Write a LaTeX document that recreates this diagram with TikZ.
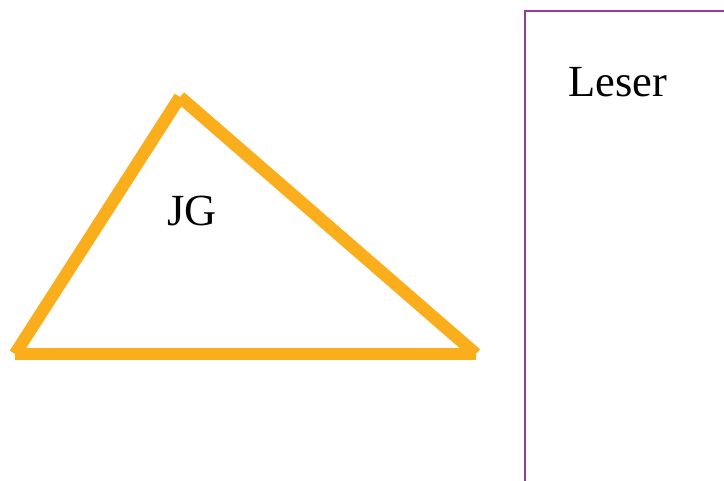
\documentclass[tikz,border=0pt]{standalone}
\usepackage{fontspec}
\setmainfont{Liberation Serif}
\usepackage{tikz}
\usepackage{xcolor}
\definecolor{EdgeOrange}{RGB}{250,174,27}
\definecolor{BoxPurple}{RGB}{150,58,160}

\begin{document}
\begin{tikzpicture}[x=1pt,y=-1pt,
    edge/.style={draw=EdgeOrange,line width=12.5pt},
    label/.style={font=\fontsize{44.5}{48}\selectfont,inner sep=0pt,anchor=base west}]
    \useasboundingbox (0,0) rectangle (724,481);
    \clip (0,0) rectangle (724,481);
    \coordinate (left) at (15,354);
    \coordinate (apex) at (180,97);
    \coordinate (right) at (476,354);
    \draw[edge] (left) -- (apex);
    \draw[edge] (apex) -- (right);
    \draw[edge] (left) -- (right);
    \node[label] (jg) at (167,226) {JG};
    \coordinate (boxnw) at (525,11.5);
    \coordinate (boxse) at (780,520);
    \draw[draw=BoxPurple,line width=2pt] (boxnw) rectangle (boxse);
    \node[label] (leser) at (568,97) {Leser};
\end{tikzpicture}
\end{document}
